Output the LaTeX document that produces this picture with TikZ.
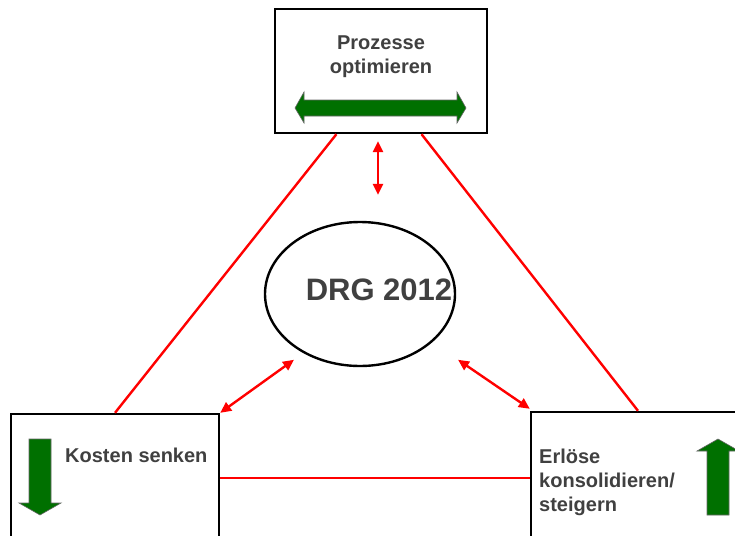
\documentclass[tikz,border=0pt]{standalone}
\usepackage{fontspec}
\setmainfont{Liberation Sans}
\usetikzlibrary{shapes.geometric,arrows.meta,calc}
\definecolor{txtgray}{HTML}{404040}
\definecolor{arrgreen}{HTML}{007000}
\tikzset{
  box/.style={draw=black,line width=2.4pt,fill=white,inner sep=0pt},
  lbl/.style={font=\bfseries\fontsize{20}{24}\selectfont,text=txtgray,align=left,inner sep=0pt},
  redline/.style={draw=red,line width=2.4pt},
  redarrow/.style={draw=red,line width=2.4pt,{Triangle[length=11pt,width=10pt]}-{Triangle[length=11pt,width=10pt]}},
  greenarrow/.style={fill=arrgreen,draw=black!60,line width=0.6pt}
}
\begin{document}
\begin{tikzpicture}[x=1pt,y=-1pt]
\useasboundingbox (0,0) rectangle (735,535);
\clip (0,0) rectangle (735,535);
% boxes
\node[box,minimum width=212pt,minimum height=124pt] (top) at (381,71) {};
\node[box,minimum width=208pt,minimum height=132pt] (kosten) at (115,480) {};
\node[box,minimum width=214pt,minimum height=133pt] (erloese) at (638,478.5) {};
\node[draw=black,line width=2.4pt,ellipse,minimum width=190pt,minimum height=144pt,inner sep=0pt] (drg) at (360,294) {};
% red lines
\draw[redline] ($(top.south west)!0.292!(top.south east)$) -- (kosten.north);
\draw[redline] ($(top.south west)!0.689!(top.south east)$) -- (erloese.north);
\draw[redline] ([yshift=2pt]kosten.east) -- ([yshift=2pt]kosten.east -| erloese.west);
% red double arrows
\draw[redarrow,shorten <=7pt,shorten >=26pt] ([xshift=-3pt]top.south) -- ([xshift=-3pt]top.south |- drg.north);
\draw[redarrow] (kosten.north east) -- ([xshift=2pt,yshift=-14pt]drg.south west);
\draw[redarrow] ([yshift=2pt]erloese.north west) -- ([xshift=30pt,yshift=-14pt]drg.south east);
% texts
\node[lbl,align=center] (ptxt) at (381,57) {Prozesse\\optimieren};
\node[font=\bfseries\fontsize{31}{36}\selectfont,text=txtgray,inner sep=0pt] (drgtxt) at (379,290) {DRG 2012};
\node[lbl,anchor=west] (ktxt) at (65,455) {Kosten senken};
\node[lbl,anchor=west] (etxt) at (539,482) {Erlöse\\konsolidieren/\\steigern};
% green arrows
\path[greenarrow] (295,108) -- (304,92) -- (304,100) -- (457,100) -- (457,92) -- (466,108)
  -- (457,123) -- (457,116) -- (304,116) -- (304,123) -- cycle;
\path[greenarrow] (29,439) -- (51,439) -- (51,503) -- (61,503) -- (40,515) -- (19,503) -- (29,503) -- cycle;
\path[greenarrow] (718,439) -- (739,451) -- (729,451) -- (729,515) -- (707,515) -- (707,451) -- (697,451) -- cycle;
\end{tikzpicture}
\end{document}
